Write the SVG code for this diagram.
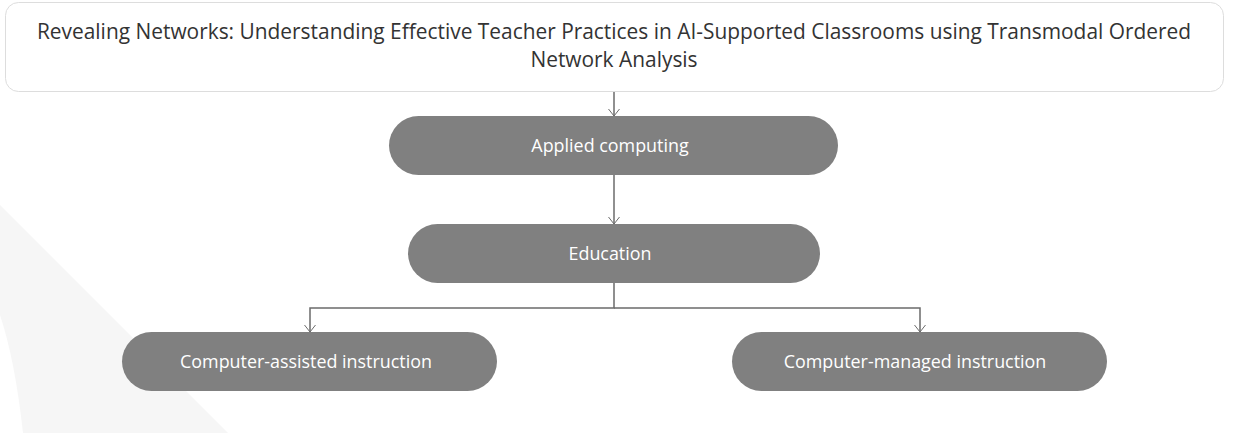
<svg xmlns="http://www.w3.org/2000/svg" width="1246" height="433" viewBox="0 0 1246 433">
<style>
.title{font-family:"Open Sans","Liberation Sans",sans-serif;font-size:20.9px;fill:#333333;text-anchor:middle}
.node rect{fill:#808080}
.node text{font-family:"Open Sans","Liberation Sans",sans-serif;font-size:17.9px;fill:#ffffff;text-anchor:middle;dominant-baseline:central}
.conn{fill:none;stroke:#6b6b6b;stroke-width:1.5}
</style>
<defs>
<marker id="arr" viewBox="0 0 8 12" refX="7.5" refY="6" markerWidth="8" markerHeight="12" markerUnits="userSpaceOnUse" orient="auto">
<path d="M0.5,0.5 L7.5,6 L0.5,11.5" fill="none" stroke="#6b6b6b" stroke-width="1"/>
</marker>
</defs>
<rect width="1246" height="433" fill="#ffffff"/>
<path d="M0,205 L228,433 L23,433 Q15,360 0,315 Z" fill="#f6f6f6"/>
<g id="title">
<rect x="5.5" y="2.5" width="1218" height="89" rx="13" fill="#ffffff" stroke="#dddddd" stroke-width="1"/>
<text class="title" x="614" y="39">Revealing Networks: Understanding Effective Teacher Practices in AI-Supported Classrooms using Transmodal Ordered</text>
<text class="title" x="614" y="67">Network Analysis</text>
</g>
<g id="connectors">
<path class="conn" d="M614,92 V116" marker-end="url(#arr)"/>
<path class="conn" d="M614,175 V224" marker-end="url(#arr)"/>
<path class="conn" d="M614,283 V308 H310 V332" marker-end="url(#arr)"/>
<path class="conn" d="M614,308 H920 V332" marker-end="url(#arr)"/>
</g>
<g id="applied" class="node">
<rect x="389" y="116" width="449" height="59" rx="29.5"/>
<text x="610" y="145">Applied computing</text>
</g>
<g id="education" class="node">
<rect x="408" y="224" width="412" height="59" rx="29.5"/>
<text x="610" y="253">Education</text>
</g>
<g id="cai" class="node">
<rect x="122" y="332" width="375" height="59" rx="29.5"/>
<text x="306" y="361">Computer-assisted instruction</text>
</g>
<g id="cmi" class="node">
<rect x="732" y="332" width="375" height="59" rx="29.5"/>
<text x="915" y="361">Computer-managed instruction</text>
</g>
</svg>
